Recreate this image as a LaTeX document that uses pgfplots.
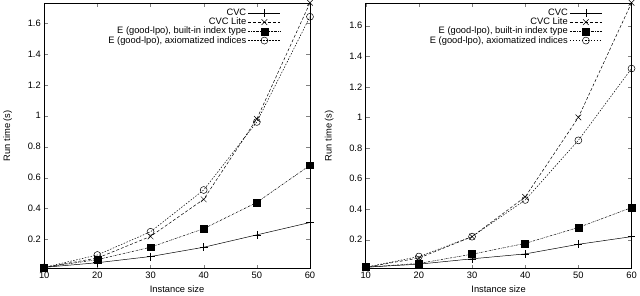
\documentclass[border=0pt]{standalone}
\usepackage{pgfplots}
\pgfplotsset{compat=1.18}
\usepackage{fontspec}
\setmainfont{Liberation Sans}
\pgfplotstableread{
x cvc lite eb ea
10 0.02 0.02 0.02 0.02
20 0.05 0.08 0.07 0.10
30 0.09 0.22 0.15 0.25
40 0.15 0.46 0.27 0.52
50 0.23 0.98 0.44 0.96
60 0.31 1.73 0.68 1.64
}\lefttab
\pgfplotstableread{
x cvc lite eb ea
10 0.02 0.02 0.02 0.02
20 0.04 0.08 0.045 0.09
30 0.075 0.22 0.105 0.22
40 0.107 0.48 0.176 0.46
50 0.17 1.00 0.28 0.85
60 0.22 1.75 0.41 1.32
}\righttab
\pgfplotsset{
  every axis/.append style={
    scale only axis, width=267bp, height=267bp,
    xmin=10, xmax=60,
    xtick={10,20,30,40,50,60},
    ytick={0.2,0.4,0.6,0.8,1,1.2,1.4,1.6},
    tick align=inside, major tick length=4bp,
    font=\fontsize{9.4}{10}\selectfont,
    /pgf/number format/assume math mode=true,
    yticklabel style={/pgf/number format/fixed},
    xlabel={Instance size}, ylabel={Run time (s)},
    ylabel shift=9bp,
    axis line style={line width=0.5pt},
    legend style={draw=none, fill=none, at={(0.89,0.985)}, anchor=north east,
      font=\fontsize{9.4}{10}\selectfont, row sep=-3pt, inner sep=0pt,
      column sep=0pt, nodes={inner xsep=2pt}},
    legend cell align=right, legend plot pos=right,
    legend image code/.code={\draw[mark repeat=2,mark phase=2] plot coordinates {(0bp,0bp) (16bp,0bp) (32bp,0bp)};},
  },
  s1/.style={black, line width=0.5pt, solid, mark=+, mark size=4bp, mark options={solid}},
  s2/.style={black, line width=0.5pt, dash pattern=on 3pt off 2pt, mark=x, mark size=4bp, mark options={solid}},
  s3/.style={black, line width=0.5pt, dash pattern=on 2pt off 1pt on 0.5pt off 1pt, mark=square*, mark size=3.5bp, mark options={solid}},
  s4/.style={black, line width=0.5pt, dash pattern=on 1.5pt off 1.5pt, mark=o, mark size=3.5bp, mark options={solid}},
}
\begin{document}
\begin{tikzpicture}
\begin{axis}[at={(0,0)}, anchor=south west, ymin=0.012, ymax=1.73]
\addplot[s1] table[x=x,y=cvc]{\lefttab};
\addplot[s2] table[x=x,y=lite]{\lefttab};
\addplot[s3] table[x=x,y=eb]{\lefttab};
\addplot[s4] table[x=x,y=ea]{\lefttab};
\legend{CVC, CVC Lite, {E (good-lpo), built-in index type}, {E (good-lpo), axiomatized indices}}
\end{axis}
\begin{axis}[at={(323bp,0)}, anchor=south west, ymin=0.011, ymax=1.75]
\addplot[s1] table[x=x,y=cvc]{\righttab};
\addplot[s2] table[x=x,y=lite]{\righttab};
\addplot[s3] table[x=x,y=eb]{\righttab};
\addplot[s4] table[x=x,y=ea]{\righttab};
\legend{CVC, CVC Lite, {E (good-lpo), built-in index type}, {E (good-lpo), axiomatized indices}}
\end{axis}
\end{tikzpicture}
\end{document}
